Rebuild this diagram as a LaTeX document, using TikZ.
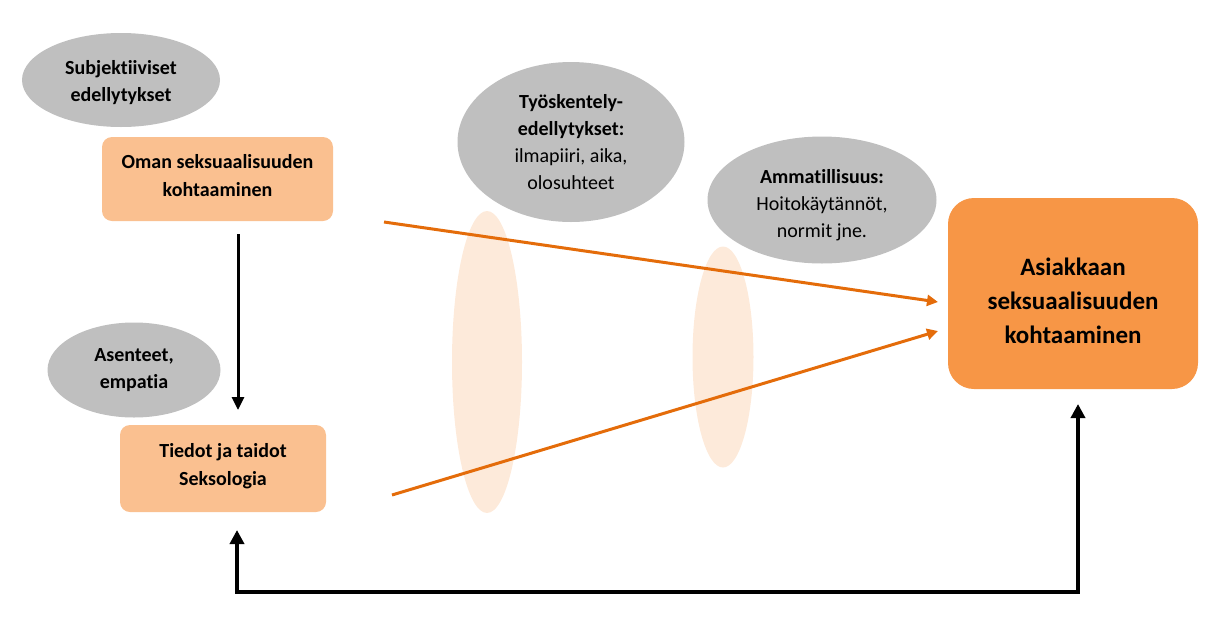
\documentclass[tikz,border=0pt]{standalone}
\usepackage{fontspec}
\setmainfont{Carlito}[Ligatures=NoCommon]
\usetikzlibrary{arrows.meta,shapes.geometric}
\definecolor{gr}{HTML}{BFBFBF}
\definecolor{lbox}{HTML}{FAC090}
\definecolor{dbox}{HTML}{F79646}
\definecolor{peach}{HTML}{FDEADA}
\definecolor{arr}{HTML}{E46C0A}
\newcommand{\up}[1]{\rule{0pt}{#1}}
\newcommand{\dn}[1]{\rule[-#1]{0pt}{#1}}
\tikzset{
  cloud/.style={ellipse,fill=gr,inner sep=0pt,align=center,font=\fontsize{20}{27}\selectfont},
  lbx/.style={rectangle,rounded corners=10pt,fill=lbox,inner sep=0pt,align=center,font=\fontsize{20}{28}\selectfont\bfseries},
  bigbx/.style={rectangle,rounded corners=26pt,fill=dbox,inner sep=0pt,align=center,font=\fontsize{25}{34}\selectfont\bfseries},
  halo/.style={ellipse,fill=peach,inner sep=0pt},
  oarr/.style={draw=arr,line width=3pt,-{Triangle[width=11pt,length=11pt]}},
  barr/.style={draw=black,line width=3pt,-{Triangle[width=12pt,length=13pt]}},
  loop/.style={draw=black,line width=4.5pt,{Triangle[width=14pt,length=14pt]}-{Triangle[width=14pt,length=14pt]}}
}
\begin{document}
\begin{tikzpicture}[x=1pt,y=-1pt]
\useasboundingbox (0,0) rectangle (1227,622);
% faint halos
\node[halo,minimum width=70pt,minimum height=302pt] (h1) at (487,362) {};
\node[halo,minimum width=61pt,minimum height=221pt] (h2) at (723,357) {};
% grey ellipses
\node[cloud,minimum width=198pt,minimum height=94pt] (subj) at (121,80) {\up{20pt}\textbf{Subjektiiviset}\\\textbf{edellytykset}};
\node[cloud,minimum width=173pt,minimum height=95pt] (asen) at (134,370) {\textbf{Asenteet,}\\\textbf{empatia}};
\node[cloud,minimum width=227pt,minimum height=160pt] (tyo) at (571,142) {\textbf{Työskentely-}\\\textbf{edellytykset:}\\ilmapiiri, aika,\\olosuhteet};
\node[cloud,minimum width=229pt,minimum height=127pt] (amm) at (822,200) {\up{25pt}\textbf{Ammatillisuus:}\\Hoitokäytännöt,\\normit jne.};
% boxes
\node[lbx,minimum width=231pt,minimum height=84pt] (oman) at (217.5,179) {Oman seksuaalisuuden\\kohtaaminen\dn{8pt}};
\node[lbx,minimum width=206pt,minimum height=87pt] (tied) at (223,468.5) {Tiedot ja taidot\\Seksologia\dn{8pt}};
\node[bigbx,minimum width=250pt,minimum height=191pt] (asi) at (1073,293.5) {\up{33pt}Asiakkaan\\seksuaalisuuden\\kohtaaminen};
% connector end points
\coordinate (o1) at (384,222);
\coordinate (o1t) at (938,302);
\coordinate (o2) at (392,495);
\coordinate (o2t) at (938,331);
\coordinate (b1) at (238,234);
\coordinate (b1t) at (238,410);
\coordinate (lt) at (237,530);
\coordinate (lc1) at (237,592);
\coordinate (lc2) at (1078,592);
\coordinate (rt) at (1078,404);
% connectors
\draw[oarr] (o1) -- (o1t);
\draw[oarr] (o2) -- (o2t);
\draw[barr] (b1) -- (b1t);
\draw[loop] (lt) -- (lc1) -- (lc2) -- (rt);
\end{tikzpicture}
\end{document}
